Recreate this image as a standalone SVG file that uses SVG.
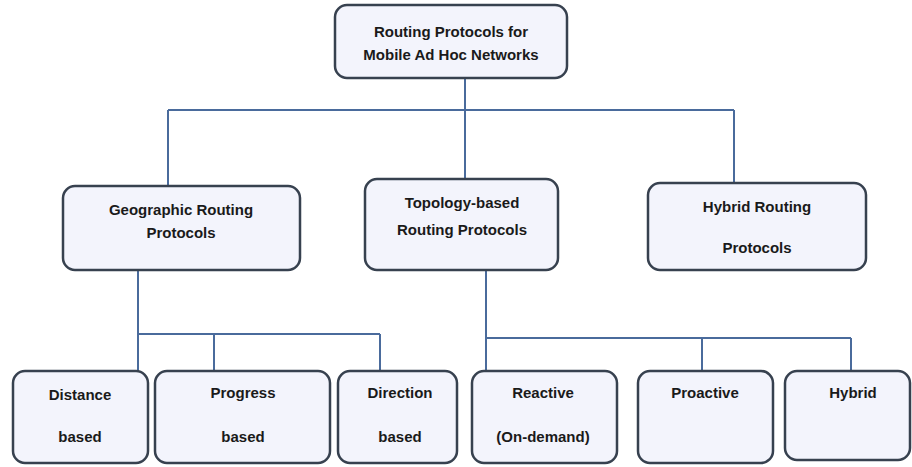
<svg xmlns="http://www.w3.org/2000/svg" width="912" height="467" viewBox="0 0 912 467">
<style>
.box{fill:#f3f4fc;stroke:#37414f;stroke-width:2.5}
.lbl{font-family:"Liberation Sans",Arial,sans-serif;font-weight:bold;font-size:15px;fill:#1a1a1a;text-anchor:middle}
.conn{stroke:#4a6b9c;stroke-width:2;fill:none}
</style>
<rect width="912" height="467" fill="#ffffff"/>
<g id="connectors">
<path class="conn" d="M465,78 V110 M168,110 H734 M168,110 V186 M465,110 V179 M734,110 V183"/>
<path class="conn" d="M138,270 V371 M138,334 H380 M214,334 V371 M380,334 V371"/>
<path class="conn" d="M486,270 V371 M486,338 H851 M702,338 V371 M851,338 V371"/>
</g>
<g id="root">
<rect class="box" x="335" y="5" width="232" height="73" rx="12"/>
<text class="lbl" x="451" y="37">Routing Protocols for</text>
<text class="lbl" x="451" y="60">Mobile Ad Hoc Networks</text>
</g>
<g id="geographic">
<rect class="box" x="63" y="186" width="237" height="84" rx="12"/>
<text class="lbl" x="181" y="215">Geographic Routing</text>
<text class="lbl" x="181" y="238">Protocols</text>
</g>
<g id="topology">
<rect class="box" x="365" y="179" width="193" height="91" rx="12"/>
<text class="lbl" x="462" y="208">Topology-based</text>
<text class="lbl" x="462" y="235">Routing Protocols</text>
</g>
<g id="hybridrouting">
<rect class="box" x="648" y="183" width="218" height="87" rx="12"/>
<text class="lbl" x="757" y="212">Hybrid Routing</text>
<text class="lbl" x="757" y="253">Protocols</text>
</g>
<g id="distance">
<rect class="box" x="13" y="371" width="135" height="92" rx="12"/>
<text class="lbl" x="80" y="400">Distance</text>
<text class="lbl" x="80" y="442">based</text>
</g>
<g id="progress">
<rect class="box" x="155" y="371" width="175" height="92" rx="12"/>
<text class="lbl" x="243" y="398">Progress</text>
<text class="lbl" x="243" y="442">based</text>
</g>
<g id="direction">
<rect class="box" x="338" y="371" width="119" height="92" rx="12"/>
<text class="lbl" x="400" y="398">Direction</text>
<text class="lbl" x="400" y="442">based</text>
</g>
<g id="reactive">
<rect class="box" x="472" y="371" width="145" height="92" rx="12"/>
<text class="lbl" x="543" y="398">Reactive</text>
<text class="lbl" x="543" y="442">(On-demand)</text>
</g>
<g id="proactive">
<rect class="box" x="638" y="371" width="135" height="92" rx="12"/>
<text class="lbl" x="705" y="398">Proactive</text>
</g>
<g id="hybrid">
<rect class="box" x="785" y="371" width="125" height="89" rx="12"/>
<text class="lbl" x="853" y="398">Hybrid</text>
</g>
</svg>
